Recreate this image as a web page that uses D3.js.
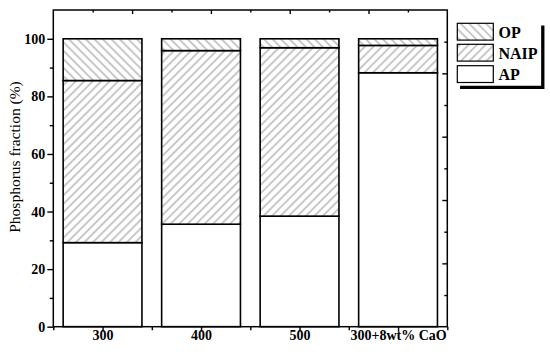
<!DOCTYPE html>
<html><head><meta charset="utf-8">
<script src="https://cdn.jsdelivr.net/npm/d3@7"></script>
<style>
body{margin:0;background:#fff;}
text{font-family:"Liberation Serif","Times New Roman",serif;}
</style></head>
<body><svg id="c" width="550" height="355"></svg>
<script>
const categories = ["300", "400", "500", "300+8wt% CaO"];
const AP   = [29.2, 35.6, 38.4, 88.2];
const NAIP = [56.3, 60.3, 58.5, 9.5];
const OP   = [14.5, 4.1, 3.1, 2.3];
const seriesNames = ["AP", "NAIP", "OP"];
const yTicks = [0, 20, 40, 60, 80, 100];
const yMinor = [10, 30, 50, 70, 90];

const svg = d3.select("#c");
const L = 53.3, R = 447.3, T = 10, B = 326.7;

const x = d3.scaleLinear().domain([0.5, 4.5]).range([L, R]);
const y = d3.scaleLinear().domain([0, 110]).range([B, T]);
const xT = d3.scaleLinear().domain([0, 5]).range([L, R]);
const yR = d3.scaleLinear().domain([0, 5]).range([B, T]);

// hatch patterns
const defs = svg.append("defs");
function hatch(id, angle) {
  const p = defs.append("pattern").attr("id", id)
    .attr("patternUnits", "userSpaceOnUse")
    .attr("width", 6).attr("height", 6)
    .attr("patternTransform", `rotate(${angle})`);
  p.append("rect").attr("width", 6).attr("height", 6).attr("fill", "#fff");
  p.append("line").attr("x1", 3).attr("x2", 3).attr("y1", 0).attr("y2", 6)
    .attr("stroke", "#858585").attr("stroke-width", 0.9);
}
hatch("hNAIP", 45);
hatch("hOP", -45);
const fills = {AP: "#fff", NAIP: "url(#hNAIP)", OP: "url(#hOP)"};

const data = categories.map((c, i) => ({cat: c, idx: i + 1, AP: AP[i], NAIP: NAIP[i], OP: OP[i]}));
const stack = d3.stack().keys(seriesNames)(data);

const bw = 0.8;
stack.forEach(layer => {
  svg.append("g").selectAll("rect").data(layer).join("rect")
    .attr("x", d => x(d.data.idx - bw / 2))
    .attr("width", d => x(d.data.idx + bw / 2) - x(d.data.idx - bw / 2))
    .attr("y", d => y(d[1]))
    .attr("height", d => y(d[0]) - y(d[1]))
    .attr("fill", fills[layer.key])
    .attr("stroke", "#000").attr("stroke-width", 1.6);
});

// axes
function styleAxis(g) {
  g.selectAll("path.domain").remove();
  g.selectAll("line").attr("stroke", "#000").attr("stroke-width", 1.4);
}
// left
svg.append("g").attr("transform", `translate(${L},0)`)
  .call(d3.axisLeft(y).tickValues(yTicks).tickSize(6).tickPadding(2))
  .call(styleAxis)
  .call(g => g.selectAll("text").attr("font-size", 14).attr("font-weight", "bold")
    .attr("font-family", "Liberation Serif").attr("fill", "#000"));
svg.append("g").attr("transform", `translate(${L},0)`)
  .call(d3.axisLeft(y).tickValues(yMinor).tickSize(3.5).tickFormat(""))
  .call(styleAxis);
// bottom
svg.append("g").attr("transform", `translate(0,${B})`)
  .call(d3.axisBottom(x).tickValues([1, 2, 3, 4]).tickSize(5).tickFormat(i => categories[i - 1]))
  .call(styleAxis)
  .call(g => g.selectAll("text").attr("font-size", 14).attr("font-weight", "bold")
    .attr("font-family", "Liberation Serif").attr("fill", "#000")
    .attr("dy", null).attr("y", 13));
svg.append("g").attr("transform", `translate(0,${B})`)
  .call(d3.axisBottom(x).tickValues([0.5, 1.5, 2.5, 3.5, 4.5]).tickSize(3.5).tickFormat(""))
  .call(styleAxis);
// top (ticks inward)
svg.append("g").attr("transform", `translate(0,${T})`)
  .call(d3.axisBottom(xT).tickValues([1, 2, 3, 4]).tickSize(4).tickFormat(""))
  .call(styleAxis);
svg.append("g").attr("transform", `translate(0,${T})`)
  .call(d3.axisBottom(xT).tickValues([0.5, 1.5, 2.5, 3.5, 4.5]).tickSize(2.5).tickFormat(""))
  .call(styleAxis);
// right (ticks inward)
svg.append("g").attr("transform", `translate(${R},0)`)
  .call(d3.axisLeft(yR).tickValues([1, 2, 3, 4]).tickSize(5).tickFormat(""))
  .call(styleAxis);
svg.append("g").attr("transform", `translate(${R},0)`)
  .call(d3.axisLeft(yR).tickValues([0.5, 1.5, 2.5, 3.5, 4.5]).tickSize(3).tickFormat(""))
  .call(styleAxis);

// frame
svg.append("rect").attr("x", L).attr("y", T).attr("width", R - L).attr("height", B - T)
  .attr("fill", "none").attr("stroke", "#000").attr("stroke-width", 1.5);

// y label
svg.append("text").attr("transform", "translate(20,157) rotate(-90)")
  .attr("text-anchor", "middle").attr("font-size", 15.5).attr("fill", "#000")
  .text("Phosphorus fraction (%)");

// legend
const legItems = ["OP", "NAIP", "AP"];
const legY = [23.3, 44.3, 65.7];
const lg = svg.append("g");
legItems.forEach((k, i) => {
  lg.append("rect").attr("x", 457.3).attr("y", legY[i]).attr("width", 36).attr("height", 16.8)
    .attr("fill", fills[k]).attr("stroke", "#000").attr("stroke-width", 1.2);
  lg.append("text").attr("x", 498.5).attr("y", legY[i] + 14.2)
    .attr("font-size", 16).attr("font-weight", "bold").attr("fill", "#000").text(k);
});
lg.append("path").attr("d", "M460,87.3 H542.8 V25.5")
  .attr("fill", "none").attr("stroke", "#000").attr("stroke-width", 3.3);
</script></body></html>
